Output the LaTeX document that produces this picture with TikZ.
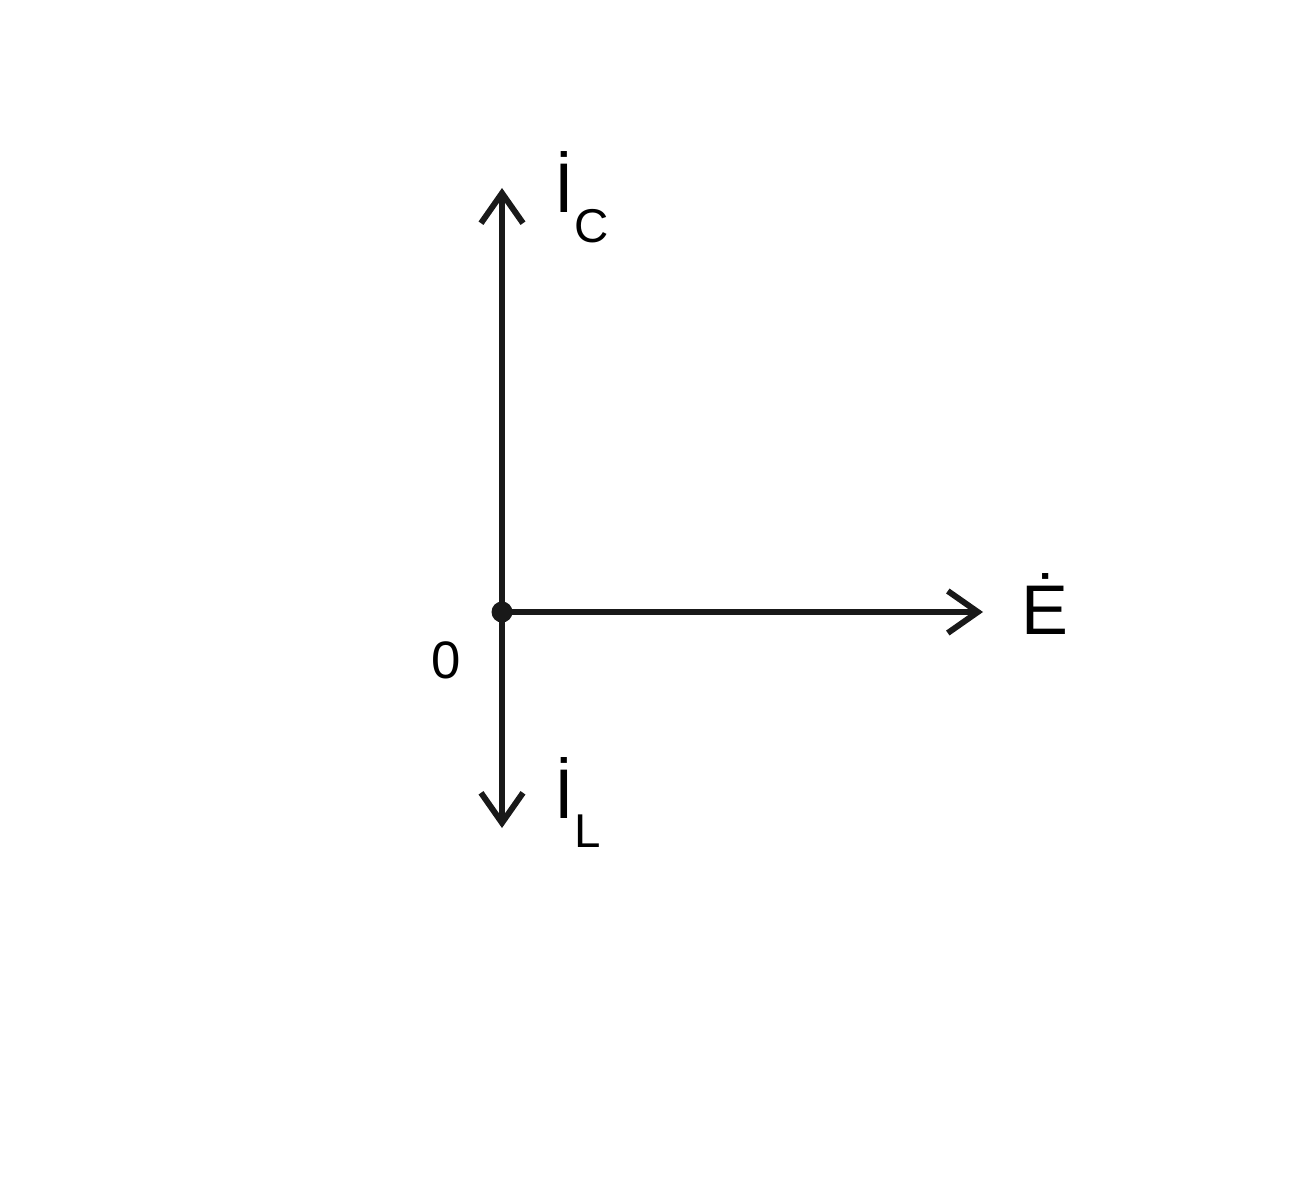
\documentclass[tikz,border=0pt]{standalone}
\usepackage{fontspec}
\setmainfont{Liberation Sans}
\usetikzlibrary{arrows.meta}

\begin{document}
\begin{tikzpicture}[line cap=round,line join=round,>={Straight Barb[length=0.3cm,width=0.42cm]},x=1cm,y=1cm]
\useasboundingbox (-5.02,-5.77) rectangle (7.98,6.12);
\tikzset{
  vec/.style={->,line width=1.7pt,color=black!90},
  lbl/.style={inner sep=0pt,anchor=base west,font=\fontsize{20}{24}\selectfont}
}
\node[circle,fill=black!90,inner sep=0pt,minimum size=0.21cm] (O) at (0,0) {};
\coordinate (C) at (0,4.24);
\coordinate (L) at (0,-2.16);
\coordinate (E) at (4.81,0);
\draw [vec] (O.center) -- (C);
\draw [vec] (O.center) -- (L);
\draw [vec] (O.center) -- (E);
\node[lbl] (ic) at (0.52,4.00) {İ\raisebox{-0.30cm}{\fontsize{13.5}{16}\selectfont C}};
\node[lbl] (il) at (0.52,-2.06) {İ\raisebox{-0.29cm}{\fontsize{13.5}{16}\selectfont L}};
\node[lbl] (e) at (5.19,-0.22) {Ė};
\node[inner sep=0pt,font=\fontsize{15}{18}\selectfont] (zero) at (-0.56,-0.48) {0};
\end{tikzpicture}
\end{document}
